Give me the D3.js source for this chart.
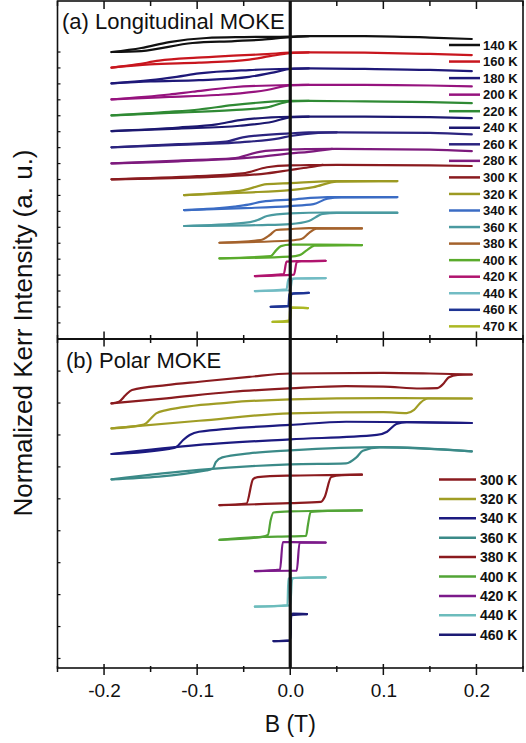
<!DOCTYPE html>
<html>
<head>
<meta charset="utf-8">
<script src="https://cdn.jsdelivr.net/npm/d3@7"></script>
<style>
  body { margin: 0; background: #fff; }
  text { font-family: "Liberation Sans", Arial, sans-serif; fill: #111; }
</style>
</head>
<body>
<div id="chart"></div>
<script>
const width = 526;
const height = 743;

// ---- data: (a) longitudinal MOKE ----
const longTemps = [140, 160, 180, 200, 220, 240, 260, 280, 300, 320, 340, 360, 380, 400, 420, 440, 460, 470];
const longOffsets = [17.83, 16.86, 15.88, 14.89, 13.89, 12.92, 11.91, 10.91, 9.92, 8.94, 8.01, 7.02, 5.98, 5.01, 3.91, 2.98, 2.0, 1.06];
// upper branch (field swept + -> -), values relative to offset
const longUpper = [
  [[0.195,0.81],[0.15,0.9],[0.08,0.99],[0.02,0.99],[0,0.96],[-0.05,0.93],[-0.09,0.87],[-0.13,0.62],[-0.16,0.25],[-0.192,0]],
  [[0.195,0.78],[0.15,0.85],[0.08,0.93],[0.02,0.95],[0,0.93],[-0.025,0.84],[-0.07,0.72],[-0.1,0.62],[-0.141,0.43],[-0.165,0.2],[-0.192,0]],
  [[0.195,0.76],[0.15,0.84],[0.08,0.9],[0.02,0.93],[0,0.91],[-0.044,0.83],[-0.098,0.62],[-0.122,0.41],[-0.15,0.2],[-0.192,0]],
  [[0.195,0.8],[0.15,0.86],[0.08,0.9],[0.02,0.9],[0,0.89],[-0.062,0.75],[-0.105,0.47],[-0.13,0.3],[-0.192,0]],
  [[0.195,0.76],[0.15,0.83],[0.08,0.87],[0.02,0.9],[0,0.9],[-0.062,0.64],[-0.098,0.37],[-0.13,0.22],[-0.192,0]],
  [[0.195,0.8],[0.15,0.86],[0.08,0.9],[0.02,0.9],[0,0.89],[-0.054,0.68],[-0.079,0.42],[-0.12,0.22],[-0.192,0]],
  [[0.195,0.8],[0.15,0.9],[0.05,0.93],[0.02,0.93],[0,0.87],[-0.051,0.62],[-0.069,0.35],[-0.12,0.2],[-0.192,0]],
  [[0.195,0.76],[0.15,0.86],[0.05,0.9],[0.02,0.89],[0,0.87],[-0.033,0.72],[-0.062,0.31],[-0.12,0.18],[-0.192,0]],
  [[0.195,0.83],[0.15,0.87],[0.05,0.9],[0.02,0.88],[0,0.87],[-0.025,0.75],[-0.051,0.37],[-0.1,0.2],[-0.192,0]],
  [[0.115,0.87],[0.05,0.87],[0,0.75],[-0.025,0.68],[-0.05,0.31],[-0.08,0.12],[-0.114,0]],
  [[0.115,0.81],[0.04,0.81],[0,0.65],[-0.03,0.53],[-0.045,0.34],[-0.06,0.22],[-0.114,0]],
  [[0.115,0.83],[0.04,0.84],[0,0.78],[-0.025,0.62],[-0.035,0.37],[-0.05,0.19],[-0.114,0]],
  [[0.077,0.89],[0.02,0.91],[0,0.85],[-0.015,0.79],[-0.022,0.48],[-0.032,0.17],[-0.076,0]],
  [[0.077,0.82],[0.03,0.85],[0,0.85],[-0.01,0.76],[-0.015,0.51],[-0.021,0.14],[-0.076,0]],
  [[0.038,0.95],[0.008,0.93],[-0.004,0.9],[-0.007,0.12],[-0.038,0]],
  [[0.038,0.8],[0.004,0.78],[-0.002,0.75],[-0.004,0.1],[-0.038,0]],
  [[0.02,0.87],[0.001,0.82],[-0.001,0.78],[-0.002,0.06],[-0.021,0]],
  [[0.019,0.86],[0.002,0.89],[0.001,0.88],[0,0.1],[-0.019,0]]
];
// lower branch (field swept - -> +)
const longLower = [
  [[-0.192,0],[-0.16,0.06],[-0.105,0.56],[-0.06,0.68],[-0.03,0.77],[0,0.93],[0.02,0.99]],
  [[-0.192,0],[-0.151,0.2],[-0.098,0.31],[-0.044,0.5],[-0.022,0.71],[0,0.9],[0.02,0.95]],
  [[-0.192,0],[-0.15,0.12],[-0.098,0.2],[-0.044,0.41],[-0.015,0.72],[0,0.9],[0.02,0.93]],
  [[-0.192,0],[-0.13,0.15],[-0.079,0.27],[-0.025,0.58],[0,0.87],[0.02,0.9]],
  [[-0.192,0],[-0.13,0.15],[-0.062,0.33],[-0.025,0.5],[0,0.87],[0.02,0.9]],
  [[-0.192,0],[-0.12,0.15],[-0.054,0.33],[-0.019,0.58],[0,0.85],[0.02,0.9]],
  [[-0.192,0],[-0.12,0.15],[-0.044,0.35],[-0.012,0.56],[0,0.7],[0.03,0.9],[0.05,0.93]],
  [[-0.192,0],[-0.12,0.13],[-0.033,0.41],[0,0.62],[0.02,0.72],[0.045,0.9]],
  [[-0.192,0],[-0.1,0.12],[-0.025,0.37],[0,0.58],[0.02,0.75],[0.035,0.9]],
  [[-0.114,0],[-0.05,0.16],[0,0.31],[0.025,0.5],[0.05,0.84],[0.115,0.87]],
  [[-0.114,0],[-0.05,0.12],[0,0.25],[0.025,0.37],[0.04,0.71],[0.055,0.79],[0.115,0.81]],
  [[-0.114,0],[-0.03,0.06],[0,0.12],[0.02,0.31],[0.035,0.75],[0.05,0.81],[0.115,0.81]],
  [[-0.076,0],[0,0.14],[0.012,0.23],[0.02,0.6],[0.028,0.87],[0.077,0.89]],
  [[-0.076,0],[0,0.11],[0.01,0.2],[0.018,0.51],[0.026,0.79],[0.077,0.82]],
  [[-0.038,0],[0.004,0.09],[0.007,0.87],[0.012,0.93],[0.038,0.95]],
  [[-0.038,0],[0,0.05],[0.002,0.72],[0.006,0.78],[0.038,0.8]],
  [[-0.021,0],[0,0.04],[0.001,0.75],[0.003,0.82],[0.02,0.87]],
  [[-0.019,0],[-0.001,0.02],[0,0.85],[0.002,0.89],[0.019,0.86]]
];

// ---- data: (b) polar MOKE ----
const polarTemps = [300, 320, 340, 360, 380, 400, 420, 440, 460];
const polarOffsets = [16.41, 14.86, 13.27, 11.7, 10.1, 7.94, 6.01, 3.8, 1.67];
const polarUpper = [
  [[0.195,1.79],[0.15,1.85],[0.1,1.89],[0,1.85],[-0.044,1.64],[-0.0975,1.34],[-0.133,1.13],[-0.17,0.83],[-0.177,0.5],[-0.184,0.1],[-0.192,0]],
  [[0.195,1.85],[0.1,1.88],[0,1.8],[-0.066,1.6],[-0.133,1.13],[-0.144,0.93],[-0.15,0.6],[-0.155,0.31],[-0.16,0.2],[-0.192,0]],
  [[0.195,1.92],[0.06,2.0],[0,1.8],[-0.098,1.38],[-0.108,1.18],[-0.115,0.87],[-0.122,0.45],[-0.13,0.32],[-0.192,0]],
  [[0.195,1.73],[0.1,1.99],[0,1.79],[-0.044,1.61],[-0.073,1.36],[-0.08,1.07],[-0.083,0.68],[-0.09,0.55],[-0.192,0]],
  [[0.077,1.89],[0.04,1.86],[0,1.83],[-0.035,1.74],[-0.04,1.6],[-0.047,0.1],[-0.076,0]],
  [[0.077,1.83],[0.03,1.8],[0,1.77],[-0.018,1.7],[-0.021,1.24],[-0.024,0.31],[-0.03,0.19],[-0.076,0]],
  [[0.038,1.77],[0,1.8],[-0.008,1.8],[-0.011,0.09],[-0.038,0]],
  [[0.038,1.82],[0.003,1.78],[-0.002,1.75],[-0.003,0.1],[-0.038,0]],
  [[0.018,1.67],[0.003,1.7],[0.001,1.65],[0,0.05],[-0.018,0]]
];
const polarLower = [
  [[-0.192,0],[-0.133,0.31],[-0.062,0.72],[0,0.93],[0.06,1.07],[0.1,1.04],[0.14,0.92],[0.158,0.95],[0.165,1.25],[0.17,1.6],[0.18,1.77],[0.195,1.79]],
  [[-0.192,0],[-0.098,0.47],[0,0.93],[0.1,1.01],[0.125,0.95],[0.133,1.15],[0.14,1.6],[0.148,1.85],[0.195,1.85]],
  [[-0.192,0],[-0.098,0.56],[0,0.91],[0.093,1.18],[0.104,1.38],[0.114,1.86],[0.125,1.98],[0.195,1.92]],
  [[-0.192,0],[-0.098,0.58],[0,0.93],[0.06,0.99],[0.071,1.36],[0.078,1.77],[0.096,1.98],[0.195,1.73]],
  [[-0.076,0],[0,0.12],[0.033,0.2],[0.037,0.5],[0.044,1.74],[0.055,1.86],[0.077,1.89]],
  [[-0.076,0],[-0.03,0.19],[0,0.22],[0.017,0.25],[0.019,0.93],[0.022,1.74],[0.04,1.8],[0.077,1.83]],
  [[-0.038,0],[0,0.02],[0.007,0.03],[0.01,1.77],[0.038,1.77]],
  [[-0.038,0],[-0.003,0.06],[0,0.1],[0.002,1.7],[0.005,1.78],[0.038,1.82]],
  [[-0.018,0],[0,0.03],[0.001,1.6],[0.018,1.67]]
];

const xTickValues = [-0.2, -0.1, 0.0, 0.1, 0.2];
const xMinorValues = [-0.25, -0.15, -0.05, 0.05, 0.15, 0.25];

// colours
const longColors = ["#111111", "#c8161e", "#1e1878", "#96137e", "#2f8a34", "#1c1870", "#2b237f", "#7d1a7d", "#8a1b1f",
  "#9c9a22", "#3b6cc4", "#4a9aa0", "#a4622c", "#5aab2c", "#b0146e", "#72bcc4", "#1e3494", "#acb824"];
const polarColors = ["#8a1b1f", "#a09d25", "#1c1a80", "#3b8a88", "#8b1a1e", "#52a436", "#7c1a8a", "#6cbcbc", "#1c1a74"];

// 画布
const svg = d3.select("#chart").append("svg")
  .attr("width", width)
  .attr("height", height);

const plotLeft = 57.5, plotRight = 523, plotTop = 1, plotMid = 339, plotBottom = 668;

const x = d3.scaleLinear().domain([-0.25, 0.25]).range([plotLeft, plotRight]);
const yA = d3.scaleLinear().domain([0, 21]).range([plotMid, plotTop]);
const yB = d3.scaleLinear().domain([0, 20.4]).range([plotBottom, plotMid]);

function drawLoops(y, offsets, upper, lower, colors) {
  const g = svg.append("g");
  offsets.forEach((off, i) => {
    const line = d3.line()
      .x(d => x(d[0]))
      .y(d => y(off + d[1]))
      .curve(d3.curveMonotoneX);
    [upper[i], lower[i]].forEach(branch => {
      const pts = branch.slice().sort((a, b) => a[0] - b[0]);
      g.append("path")
        .attr("d", line(pts))
        .attr("fill", "none")
        .attr("stroke", colors[i])
        .attr("stroke-width", 2.2)
        .attr("stroke-linejoin", "round")
        .attr("stroke-linecap", "round");
    });
  });
}

drawLoops(yA, longOffsets, longUpper, longLower, longColors);
drawLoops(yB, polarOffsets, polarUpper, polarLower, polarColors);

// zero field line
svg.append("line")
  .attr("x1", x(0)).attr("x2", x(0))
  .attr("y1", plotTop).attr("y2", plotBottom)
  .attr("stroke", "#111").attr("stroke-width", 3.2);

// frame
svg.append("rect")
  .attr("x", plotLeft).attr("y", plotTop)
  .attr("width", plotRight - plotLeft).attr("height", plotBottom - plotTop)
  .attr("fill", "none").attr("stroke", "#111").attr("stroke-width", 1.6);
svg.append("line")
  .attr("x1", plotLeft).attr("x2", plotRight)
  .attr("y1", plotMid).attr("y2", plotMid)
  .attr("stroke", "#111").attr("stroke-width", 2);

// x ticks
function ticksAt(yPos, values, up, down) {
  const g = svg.append("g").attr("stroke", "#111").attr("stroke-width", 1.5);
  g.selectAll("line").data(values).enter().append("line")
    .attr("x1", d => x(d)).attr("x2", d => x(d))
    .attr("y1", yPos - up).attr("y2", yPos + down);
}
ticksAt(plotTop, xTickValues, 0, 8);
ticksAt(plotTop, xMinorValues, 0, 5);
ticksAt(plotMid, xTickValues, 7.5, 7.5);
ticksAt(plotMid, xMinorValues, 4, 4);
ticksAt(plotBottom, xTickValues, 4, 7);
ticksAt(plotBottom, xMinorValues, 2, 4);

// bottom tick labels
svg.append("g")
  .attr("transform", `translate(0,${plotBottom})`)
  .call(d3.axisBottom(x).tickValues(xTickValues).tickSize(0).tickPadding(14).tickFormat(d => d.toFixed(1)))
  .call(g => g.select(".domain").remove())
  .selectAll("text")
  .attr("dy", null)
  .attr("y", 29)
  .style("font-size", "19px")
  .attr("fill", "#111");

// y minor ticks (no labels)
const yTicksA = d3.range(18).map(i => 1 + i * 0.99);
const yTicksB = d3.range(10).map(i => 18.41 - i * 1.98);
svg.append("g").selectAll("line").data(yTicksA).enter().append("line")
  .attr("x1", plotLeft).attr("x2", plotLeft + 3)
  .attr("y1", d => yA(d)).attr("y2", d => yA(d))
  .attr("stroke", "#111").attr("stroke-width", 1.2);
svg.append("g").selectAll("line").data(yTicksB).enter().append("line")
  .attr("x1", plotLeft).attr("x2", plotLeft + 3)
  .attr("y1", d => yB(d)).attr("y2", d => yB(d))
  .attr("stroke", "#111").attr("stroke-width", 1.2);

// panel titles
svg.append("text").attr("x", 62).attr("y", 29)
  .style("font-size", "22px").text("(a) Longitudinal MOKE");
svg.append("text").attr("x", 66).attr("y", 367.5)
  .style("font-size", "22px").text("(b) Polar MOKE");

// axis titles
svg.append("text")
  .attr("x", x(0)).attr("y", 732)
  .attr("text-anchor", "middle")
  .style("font-size", "23px").text("B (T)");
svg.append("text")
  .attr("transform", `translate(32,333) rotate(-90)`)
  .attr("text-anchor", "middle")
  .style("font-size", "26px").text("Normalized Kerr Intensity (a. u.)");

// legends
const legA = svg.append("g");
longTemps.forEach((t, i) => {
  const yy = 45 + i * 16.55;
  legA.append("line").attr("x1", 449).attr("x2", 480).attr("y1", yy).attr("y2", yy)
    .attr("stroke", longColors[i]).attr("stroke-width", 2.5);
  legA.append("text").attr("x", 483).attr("y", yy + 4.6)
    .style("font-size", "13px").style("font-weight", "bold").text(t + " K");
});
const legB = svg.append("g");
polarTemps.forEach((t, i) => {
  const yy = 479.5 + i * 19.4;
  legB.append("line").attr("x1", 439).attr("x2", 476).attr("y1", yy).attr("y2", yy)
    .attr("stroke", polarColors[i]).attr("stroke-width", 2.5);
  legB.append("text").attr("x", 480).attr("y", yy + 5)
    .style("font-size", "14px").style("font-weight", "bold").text(t + " K");
});
</script>
</body>
</html>
